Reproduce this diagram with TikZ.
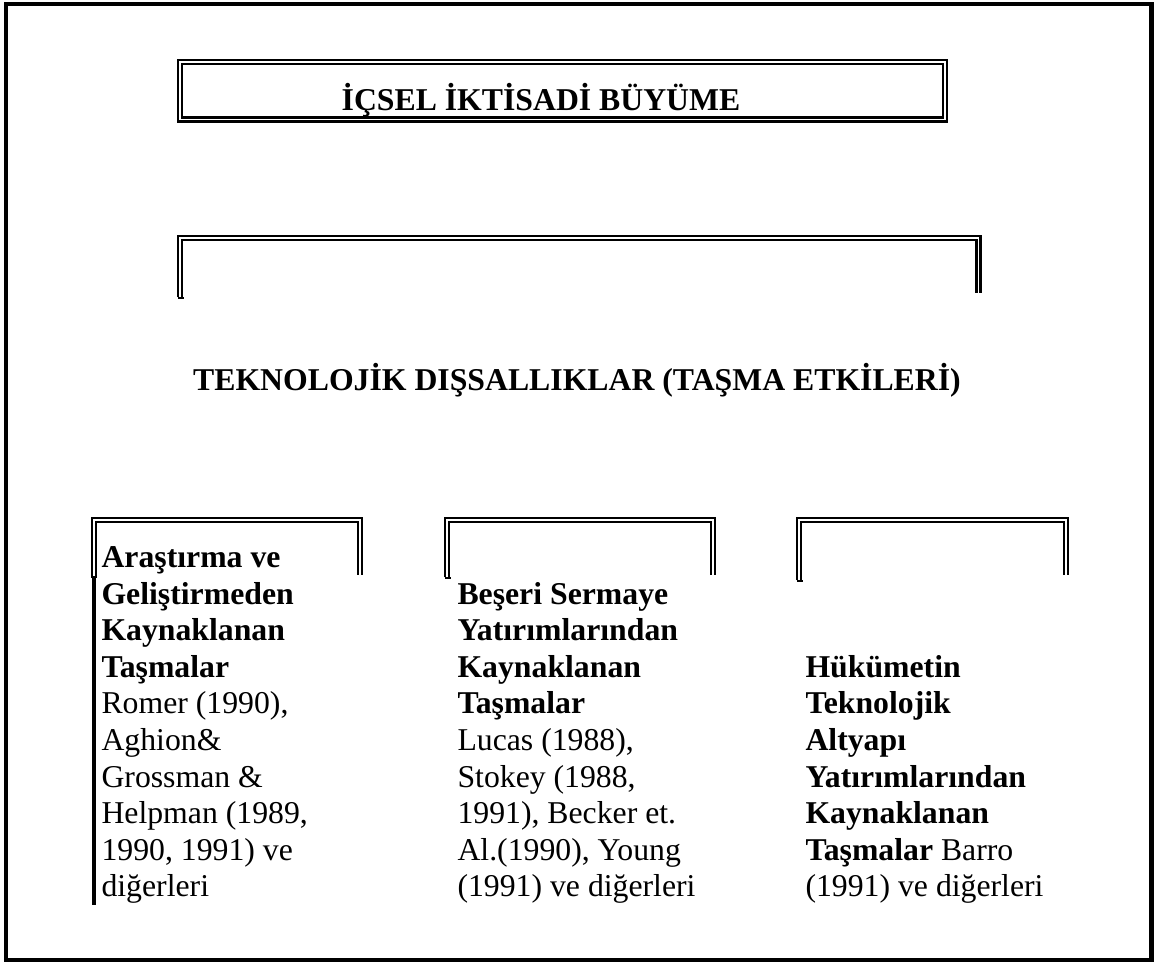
\documentclass[tikz,border=0pt]{standalone}
\usepackage{fontspec}
\setmainfont{Liberation Serif}
\usepackage{tikz}
\tikzstyle{frame}=[draw, line width=1.7pt]
\tikzstyle{dbl}=[draw
,line width=0.85pt
,double=white
,double distance=0.7pt
]
\tikzstyle{foot}=[draw, line width=0.9pt]
\tikzstyle{bar}=[draw, line width=1.5pt]
\tikzstyle{head}=[anchor=base, inner sep=0pt, font=\fontsize{12}{13.8}\selectfont\bfseries]
\tikzstyle{line}=[anchor=base west, inner sep=0pt, font=\fontsize{12}{13.8}\selectfont]

\begin{document}
\begin{tikzpicture}[x=0.378pt, y=-0.378pt]
    \useasboundingbox (0,0) rectangle (1154,962);
    % Outer frame
    \path[frame] (6,4) rectangle (1151.5,960);

    % Title box and the bracket below it
    \path[dbl] (180,62) rectangle (945,119.5);
    \node[head] (title) at (541,111) {İÇSEL İKTİSADİ BÜYÜME};
    \path[dbl] (180,297) -- (180,238) -- (978.5,238) -- (978.5,293);
    \path[foot] (177.5,298) -- (184,298);
    \node[head] (spill) at (577,391) {TEKNOLOJİK DIŞSALLIKLAR (TAŞMA ETKİLERİ)};

    % Three brackets above the columns
    \path[dbl] (94,578) -- (94,520) -- (360,520) -- (360,575);
    \path[bar] (94,576) -- (94,905);
    \path[dbl] (447,577) -- (447,520) -- (713,520) -- (713,575);
    \path[foot] (444.5,578) -- (451,578);
    \path[dbl] (799,580) -- (799,520) -- (1066,520) -- (1066,575);
    \path[foot] (796.5,581) -- (803,581);

    % Column texts, one line at a time
    \foreach \txt [count=\k from 0] in {{\textbf{Araştırma ve}}, {\textbf{Geliştirmeden}},
        {\textbf{Kaynaklanan}}, {\textbf{Taşmalar}}, {Romer (1990),}, {Aghion\&},
        {Grossman \&}, {Helpman (1989,}, {1990, 1991) ve}, {diğerleri}}
        \node[line] (rd\k) at (101,{568+36.5*\k}) {\txt};

    \foreach \txt [count=\k from 1] in {{\textbf{Beşeri Sermaye}}, {\textbf{Yatırımlarından}},
        {\textbf{Kaynaklanan}}, {\textbf{Taşmalar}}, {Lucas (1988),}, {Stokey (1988,},
        {1991), Becker et.}, {Al.(1990), Young}, {(1991) ve diğerleri}}
        \node[line] (hc\k) at (457,{568+36.5*\k}) {\txt};

    \foreach \txt [count=\k from 3] in {{\textbf{Hükümetin}}, {\textbf{Teknolojik}},
        {\textbf{Altyapı}}, {\textbf{Yatırımlarından}}, {\textbf{Kaynaklanan}},
        {\textbf{Taşmalar} Barro}, {(1991) ve diğerleri}}
        \node[line] (gv\k) at (805,{568+36.5*\k}) {\txt};

\end{tikzpicture}
\end{document}
